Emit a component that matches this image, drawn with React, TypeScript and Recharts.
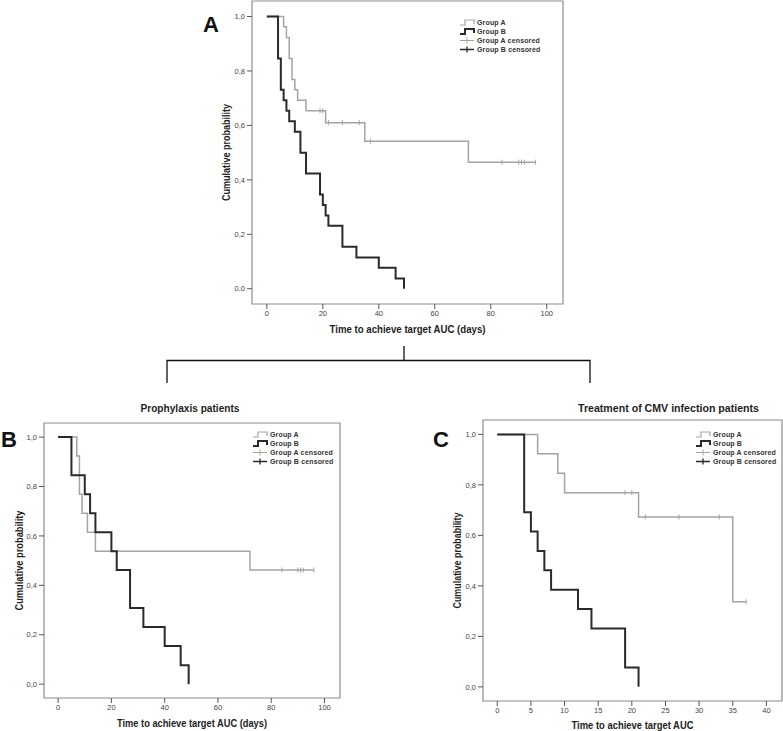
import React from "react";
import { ComposedChart, Line, Scatter, XAxis, YAxis, ReferenceArea, Legend, Label } from "recharts";

// panel A: all patients (days)
const allTimesA = [0, 6, 7, 8, 9, 10, 11, 14, 21, 35, 72, 96];
const allSurvA = [1, 0.962, 0.923, 0.846, 0.769, 0.731, 0.692, 0.654, 0.61, 0.542, 0.465, 0.465];
const allCensoredA = [19, 20, 22, 27, 33, 37, 84, 90, 91, 92, 96];
const allTimesB = [0, 4, 5, 6, 7, 8, 10, 12, 14, 19, 20, 21, 22, 27, 32, 40, 46, 49];
const allSurvB = [1, 0.846, 0.731, 0.692, 0.654, 0.615, 0.577, 0.5, 0.423, 0.346, 0.308, 0.269, 0.231, 0.154, 0.115, 0.077, 0.038, 0];

// panel B: prophylaxis patients
const proTimesA = [0, 7, 8, 9, 11, 14, 72, 96];
const proSurvA = [1, 0.923, 0.769, 0.692, 0.615, 0.538, 0.462, 0.462];
const proCensoredA = [84, 90, 91, 92, 96];
const proTimesB = [0, 5, 10, 12, 14, 20, 22, 27, 32, 40, 46, 49];
const proSurvB = [1, 0.846, 0.769, 0.692, 0.615, 0.538, 0.462, 0.308, 0.231, 0.154, 0.077, 0];

// panel C: treatment of CMV infection patients
const cmvTimesA = [0, 6, 9, 10, 21, 35, 37];
const cmvSurvA = [1, 0.923, 0.846, 0.769, 0.673, 0.337, 0.337];
const cmvCensoredA = [19, 20, 22, 27, 33, 37];
const cmvTimesB = [0, 4, 5, 6, 7, 8, 12, 14, 19, 21];
const cmvSurvB = [1, 0.692, 0.615, 0.538, 0.462, 0.385, 0.308, 0.231, 0.077, 0];

const dayTicks = [0, 20, 40, 60, 80, 100];
const cmvTicks = [0, 5, 10, 15, 20, 25, 30, 35, 40];
const probTicks = [0, 0.2, 0.4, 0.6, 0.8, 1];

const xTitleDays = "Time to achieve target AUC (days)";
const xTitleCmv = "Time to achieve target AUC";
const yTitle = "Cumulative probability";
const legendLabels = ["Group A", "Group B", "Group A censored", "Group B censored"];

const GRAY = "#a4a4a4";
const BLACK = "#2a2a2a";
const FRAME = "#8c8c8c";
const SANS = "'Liberation Sans', Arial, sans-serif";

const toSteps = (times: number[], surv: number[]) => times.map((t, i) => ({ t, s: surv[i] }));

const survAt = (times: number[], surv: number[], t: number) => {
  let s = surv[0];
  times.forEach((tt, i) => {
    if (tt <= t) s = surv[i];
  });
  return s;
};

const toCensored = (cens: number[], times: number[], surv: number[]) =>
  cens.map((t) => ({ t, s: survAt(times, surv, t) }));

const fmtProb = (v: number) => v.toFixed(1).replace(".", ",");

const CensorMark = (props: any) => {
  const { cx, cy } = props;
  if (cx == null || cy == null) return <g />;
  return (
    <g>
      <line x1={cx} x2={cx} y1={cy - 2.5} y2={cy + 2.5} stroke={GRAY} strokeWidth={1} />
    </g>
  );
};

// squeezed bold title (the original uses a narrow font)
const titleStyle = { fontFamily: SANS, fontWeight: "bold" as const, fill: "#1e1e1e" };

const xTitleLabel = (value: string, len: number) => (props: any) => {
  const { x, y, width, height } = props.viewBox;
  return (
    <text
      x={x + width / 2}
      y={y + height}
      textAnchor="middle"
      fontSize={10.5}
      textLength={len}
      lengthAdjust="spacingAndGlyphs"
      {...titleStyle}
    >
      {value}
    </text>
  );
};

const yTitleLabel = (value: string, len: number, offset: number) => (props: any) => {
  const { x, y, height } = props.viewBox;
  const cx = x + offset;
  const cy = y + height / 2;
  return (
    <text
      x={cx}
      y={cy}
      dy="0.36em"
      transform={`rotate(-90, ${cx}, ${cy})`}
      textAnchor="middle"
      fontSize={10.5}
      textLength={len}
      lengthAdjust="spacingAndGlyphs"
      {...titleStyle}
    >
      {value}
    </text>
  );
};

function KMLegend() {
  return (
    <div style={{ fontFamily: SANS, fontSize: 7, fontWeight: "bold", color: "#333", lineHeight: "9px", letterSpacing: 0.15 }}>
      {legendLabels.map((label, i) => {
        const color = i % 2 === 0 ? GRAY : BLACK;
        const step = i < 2;
        return (
          <div key={label} style={{ display: "flex", alignItems: "center", height: 9, whiteSpace: "nowrap" }}>
            <svg width={16} height={9} style={{ marginRight: 2, display: "block" }}>
              {step ? (
                <path d="M1,7 H6 V2 H15 V6" fill="none" stroke={color} strokeWidth={i === 1 ? 2 : 1.2} />
              ) : (
                <path d="M1,4.5 H15 M8,1.5 V7.5" fill="none" stroke={color} strokeWidth={i === 3 ? 1.3 : 1} />
              )}
            </svg>
            <span>{label}</span>
          </div>
        );
      })}
    </div>
  );
}

type Box = { left: number; top: number; width: number; height: number };
type Frame = { x0: number; y0: number; x1: number; y1: number };

function KMPanel(props: {
  box: Box;
  frame: Frame;
  xMax: number;
  xTicks: number[];
  xTitle: string;
  xTitleLen: number;
  yTitleLen: number;
  xAxisHeight: number;
  yTitleOffset: number;
  legendPos: { left: number; top: number };
  timesA: number[];
  survA: number[];
  censA: number[];
  timesB: number[];
  survB: number[];
}) {
  const { box, frame, xMax, xTicks, xTitle, xAxisHeight, yTitleOffset, legendPos } = props;
  const yAxisWidth = 30;
  const margin = {
    top: frame.y0 - box.top,
    left: frame.x0 - box.left - yAxisWidth,
    right: box.left + box.width - frame.x1,
    bottom: box.top + box.height - frame.y1 - xAxisHeight,
  };
  const xDomain: [number, number] = [-0.053 * xMax, xMax * 1.058];
  const yDomain: [number, number] = [-0.056, 1.057];
  const lineA = toSteps(props.timesA, props.survA);
  const lineB = toSteps(props.timesB, props.survB);
  const cens = toCensored(props.censA, props.timesA, props.survA);

  return (
    <div style={{ position: "absolute", left: box.left, top: box.top }}>
      <ComposedChart width={box.width} height={box.height} margin={margin}>
        <XAxis
          type="number"
          dataKey="t"
          domain={xDomain}
          allowDataOverflow
          ticks={xTicks}
          interval={0}
          height={xAxisHeight}
          axisLine={false}
          tickLine={{ stroke: "#555" }}
          tickSize={5}
          tick={{ fontSize: 7.5, fill: "#444", fontFamily: SANS }}
        >
          <Label content={xTitleLabel(xTitle, props.xTitleLen)} />
        </XAxis>
        <YAxis
          type="number"
          domain={yDomain}
          allowDataOverflow
          ticks={probTicks}
          interval={0}
          width={yAxisWidth}
          axisLine={false}
          tickLine={{ stroke: "#555" }}
          tickSize={5}
          tickFormatter={fmtProb}
          tick={{ fontSize: 7.5, fill: "#444", fontFamily: SANS }}
        >
          <Label content={yTitleLabel(yTitle, props.yTitleLen, yTitleOffset)} />
        </YAxis>
        <ReferenceArea
          x1={xDomain[0]}
          x2={xDomain[1]}
          y1={yDomain[0]}
          y2={yDomain[1]}
          fill="none"
          fillOpacity={0}
          stroke={FRAME}
          strokeWidth={1.2}
          ifOverflow="visible"
        />
        <Line
          data={lineA}
          dataKey="s"
          type="stepAfter"
          stroke={GRAY}
          strokeWidth={1.5}
          dot={false}
          isAnimationActive={false}
        />
        <Scatter data={cens} dataKey="s" shape={CensorMark} isAnimationActive={false} />
        <Line
          data={lineB}
          dataKey="s"
          type="stepAfter"
          stroke={BLACK}
          strokeWidth={2}
          dot={false}
          isAnimationActive={false}
        />
        <Legend
          layout="vertical"
          align="center"
          verticalAlign="middle"
          wrapperStyle={{ left: legendPos.left, top: legendPos.top, width: 95 }}
          content={() => <KMLegend />}
        />
      </ComposedChart>
    </div>
  );
}

export default function App() {
  return (
    <div style={{ position: "absolute", left: 0, top: 0, width: 783, height: 731, background: "#fff", overflow: "hidden" }}>
      <KMPanel
        box={{ left: 200, top: 0, width: 380, height: 340 }}
        frame={{ x0: 252, y0: 1, x1: 563, y1: 304 }}
        xMax={100}
        xTicks={dayTicks}
        xTitle={xTitleDays}
        xTitleLen={156}
        yTitleLen={97}
        xAxisHeight={29}
        yTitleOffset={4}
        legendPos={{ left: 259, top: 18 }}
        timesA={allTimesA}
        survA={allSurvA}
        censA={allCensoredA}
        timesB={allTimesB}
        survB={allSurvB}
      />
      <KMPanel
        box={{ left: 0, top: 415, width: 350, height: 316 }}
        frame={{ x0: 44, y0: 423, x1: 340, y1: 698 }}
        xMax={100}
        xTicks={dayTicks}
        xTitle={xTitleDays}
        xTitleLen={150}
        yTitleLen={100}
        xAxisHeight={28.5}
        yTitleOffset={5}
        legendPos={{ left: 252, top: 14.5 }}
        timesA={proTimesA}
        survA={proSurvA}
        censA={proCensoredA}
        timesB={proTimesB}
        survB={proSurvB}
      />
      <KMPanel
        box={{ left: 440, top: 410, width: 343, height: 321 }}
        frame={{ x0: 483, y0: 420, x1: 782, y1: 701 }}
        xMax={40}
        xTicks={cmvTicks}
        xTitle={xTitleCmv}
        xTitleLen={122}
        yTitleLen={96}
        xAxisHeight={27.5}
        yTitleOffset={4}
        legendPos={{ left: 255, top: 20 }}
        timesA={cmvTimesA}
        survA={cmvSurvA}
        censA={cmvCensoredA}
        timesB={cmvTimesB}
        survB={cmvSurvB}
      />
      <svg width={783} height={731} style={{ position: "absolute", left: 0, top: 0, pointerEvents: "none" }}>
        <g fontFamily={SANS} fontWeight="bold" fontSize={22} fill="#111">
          <text x={203} y={32}>A</text>
          <text x={1} y={447}>B</text>
          <text x={433} y={447}>C</text>
        </g>
        <g fontFamily={SANS} fontWeight="bold" fontSize={11} fill="#1e1e1e" textAnchor="middle">
          <text x={190} y={412} textLength={99} lengthAdjust="spacingAndGlyphs">
            Prophylaxis patients
          </text>
          <text x={668.5} y={412} textLength={181} lengthAdjust="spacingAndGlyphs">
            Treatment of CMV infection patients
          </text>
        </g>
        <path
          d="M404,346 V360.5 M167,383 V360.5 H590 V383"
          fill="none"
          stroke="#111"
          strokeWidth={1.3}
        />
      </svg>
    </div>
  );
}
